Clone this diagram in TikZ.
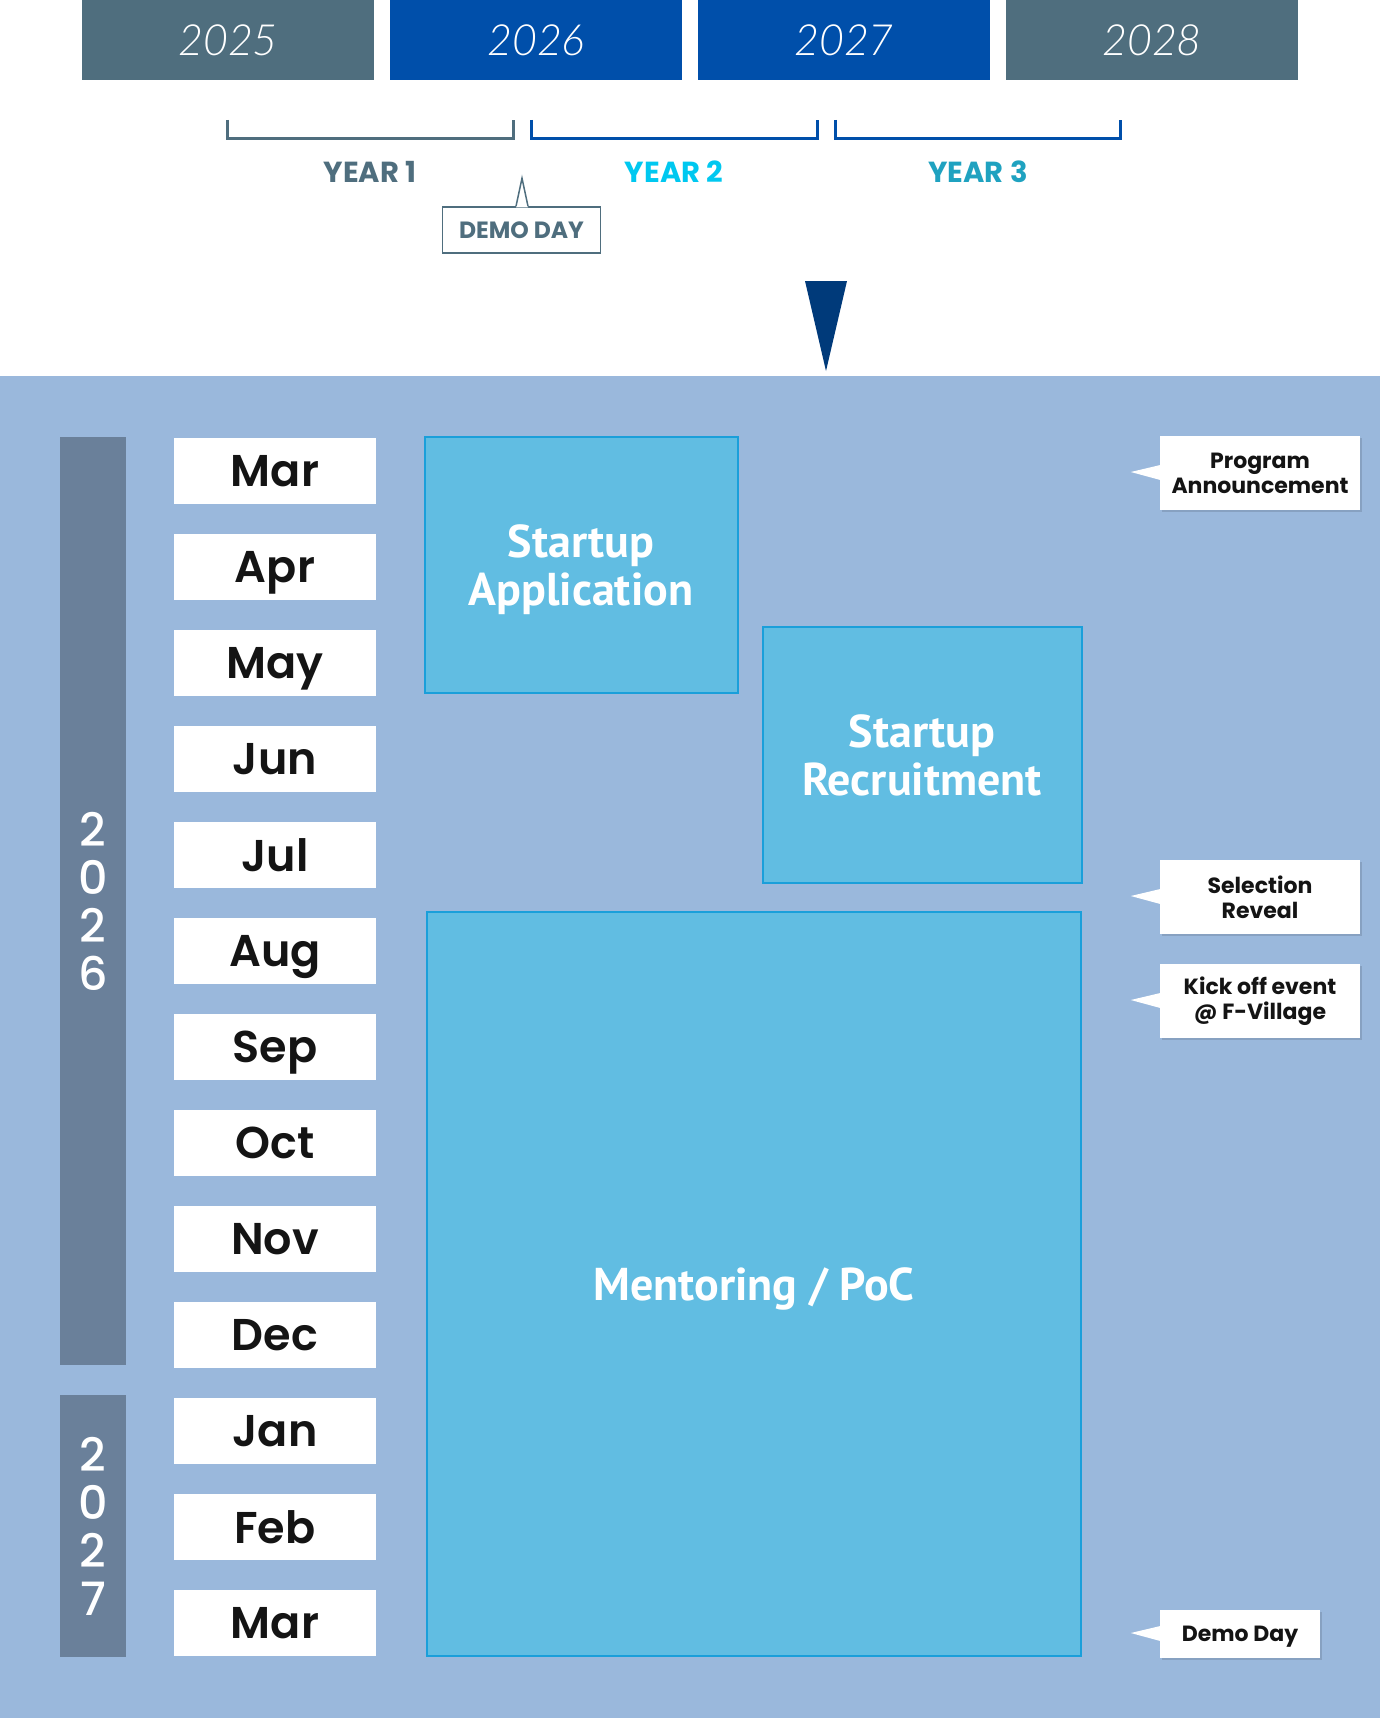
\documentclass[tikz,border=0pt]{standalone}
\usepackage{fontspec}
\setmainfont{Poppins}
\newfontfamily\popsb{Poppins SemiBold}
\newfontfamily\popmd{Poppins Medium}
\newfontfamily\ptsans{PT Sans}
\newfontfamily\latol{Lato Light Italic}
\usetikzlibrary{calc,shadows}
\definecolor{slate}{HTML}{4F6E7E}
\definecolor{royal}{HTML}{004FAA}
\definecolor{bgblue}{HTML}{9AB8DC}
\definecolor{barc}{HTML}{6A809A}
\definecolor{actfill}{HTML}{61BDE2}
\definecolor{actdraw}{HTML}{1A9FDA}
\definecolor{navy}{HTML}{003A7A}
\definecolor{cyanc}{HTML}{00C8F0}
\definecolor{tealc}{HTML}{1FA2C0}
\definecolor{txt}{HTML}{141414}
\newcommand{\nodepth}[1]{\raisebox{0pt}[\height][0pt]{#1}}
\begin{document}
\begin{tikzpicture}[x=1pt,y=-1pt,
  yearbox/.style={minimum width=292pt,minimum height=80pt,inner sep=0pt,text=white,
    font=\latol\fontsize{43}{43}\selectfont},
  bracket/.style={line width=3pt},
  yearlbl/.style={font=\bfseries\fontsize{29}{29}\selectfont,inner sep=0pt},
  month/.style={fill=white,minimum width=202pt,minimum height=66pt,inner sep=0pt,text=txt,
    text depth=0pt,font=\popsb\fontsize{44.5}{44.5}\selectfont},
  yearbar/.style={fill=barc,minimum width=66pt,inner sep=0pt,text=white,align=center,
    font=\popmd\fontsize{46}{48}\selectfont},
  act/.style={fill=actfill,draw=actdraw,line width=2pt,inner sep=0pt,text=white,align=center,
    font=\ptsans\bfseries\fontsize{46}{48}\selectfont},
  callout/.style={fill=white,inner sep=0pt,text=txt,align=center,
    font=\bfseries\fontsize{22}{25}\selectfont,
    drop shadow={shadow xshift=2pt,shadow yshift=-2pt,fill=black,opacity=0.12}},
]
\useasboundingbox (0,0) rectangle (1380,1718);
\fill[white] (0,0) rectangle (1380,1718);
% year header
\node[yearbox,fill=slate] (y25) at (228,40) {2025};
\node[yearbox,fill=royal] (y26) at (536,40) {2026};
\node[yearbox,fill=royal] (y27) at (844,40) {2027};
\node[yearbox,fill=slate] (y28) at (1152,40) {2028};
% brackets
\draw[bracket,slate] (227,120) -- (227,138.5) -- (513,138.5) -- (513,120);
\draw[bracket,royal] (531,120) -- (531,138.5) -- (817,138.5) -- (817,120);
\draw[bracket,royal] (835,120) -- (835,138.5) -- (1120,138.5) -- (1120,120);
\node[yearlbl,text=slate] (yr1) at (370,172) {YEAR 1};
\node[yearlbl,text=cyanc] (yr2) at (674,172) {YEAR 2};
\node[yearlbl,text=tealc] (yr3) at (978,172) {YEAR 3};
% demo day callout
\node[draw=slate,line width=1.5pt,fill=white,minimum width=158pt,minimum height=46pt,inner sep=0pt,
  text=slate,font=\bfseries\fontsize{23.5}{23.5}\selectfont] (demo) at (521.5,230) {DEMO DAY};
\fill[white] ($(demo.north)+(-5.5,1)$) -- ($(demo.north)+(0.5,-51)$) -- ($(demo.north)+(6.5,1)$) -- cycle;
\draw[slate,line width=1.5pt,line join=miter] ($(demo.north)+(-5.5,0)$) -- ($(demo.north)+(0.5,-28)$) -- ($(demo.north)+(6.5,0)$);
% arrow
\fill[navy] (805,281) -- (847,281) -- (826,371) -- cycle;
% background
\fill[bgblue] (0,376) rectangle (1380,1718);
% year bars
\node[yearbar,minimum height=928pt] (b26) at (93,901) {2\\0\\2\\6};
\node[yearbar,minimum height=262pt] (b27) at (93,1526) {2\\0\\2\\7};
% months
\foreach \m [count=\i from 0] in {Mar,Apr,May,Jun,Jul,Aug,Sep,Oct,Nov,Dec,Jan,Feb,Mar}
  \node[month] (m\i) at (275,{471+96*\i}) {\m};
% activities
\node[act,minimum width=313pt,minimum height=256pt] (app) at (581,565) {Startup\\\nodepth{Application}};
\node[act,minimum width=319pt,minimum height=256pt] (rec) at (922,755) {Startup\\Recruitment};
\node[act,minimum width=654pt,minimum height=744pt] (ment) at (754,1284) {\nodepth{Mentoring / PoC}};
% callouts
\node[callout,minimum width=200pt,minimum height=74pt] (prog) at (1260,473) {Program\\Announcement};
\node[callout,minimum width=200pt,minimum height=74pt] (sel) at (1260,897) {Selection\\Reveal};
\node[callout,minimum width=200pt,minimum height=74pt] (kick) at (1260,1001) {Kick off event\\@ F-Village};
\node[callout,minimum width=160pt,minimum height=48pt] (dd) at (1240,1634) {\nodepth{Demo Day}};
\foreach \c in {prog,sel,kick,dd}
  \fill[white] ($(\c.west)+(0.5,-8)$) -- ($(\c.west)+(-29,-1)$) -- ($(\c.west)+(0.5,7)$) -- cycle;
\end{tikzpicture}
\end{document}
